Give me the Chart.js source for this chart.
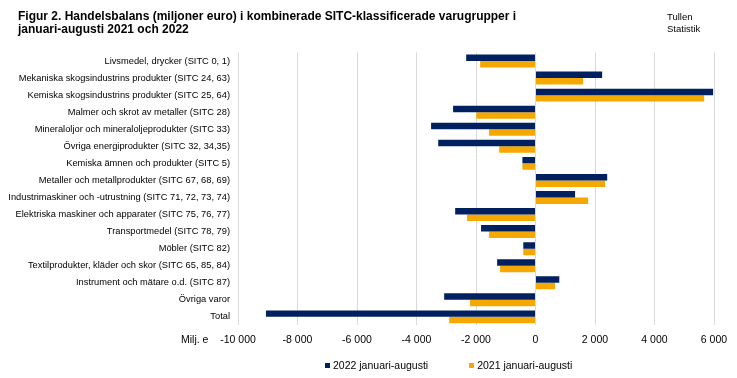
<!DOCTYPE html>
<html>
<head>
<meta charset="utf-8">
<script src="https://cdn.jsdelivr.net/npm/chart.js@4.4.0/dist/chart.umd.min.js"></script>
<style>
    body { margin: 0; background: #fff; }
    #wrap { position: relative; width: 737px; height: 378px; }
    #title {
        position: absolute; left: 18px; top: 10px;
        font: bold 12px 'Liberation Sans', Arial, sans-serif;
        line-height: 13px; color: #000;
    }
    #brand {
        position: absolute; left: 667px; top: 11px;
        font: 9.5px 'Liberation Sans', Arial, sans-serif;
        line-height: 12px; color: #000;
    }
    #unit {
        position: absolute; left: 181px; top: 333px;
        font: 10.5px 'Liberation Sans', Arial, sans-serif; color: #000;
    }
    #legend {
        position: absolute; left: 325px; top: 358px; height: 14px;
        display: flex; align-items: center;
        font: 10.5px 'Liberation Sans', Arial, sans-serif; line-height: 14px; color: #000;
    }
    #legend .item { display: flex; align-items: center; }
    #legend .item + .item { margin-left: 41px; }
    #legend .box { width: 5px; height: 5px; margin-right: 3px; }
    canvas { position: absolute; left: 0; top: 0; }
</style>
</head>
<body>
<div id="wrap">
    <canvas id="myChart" width="737" height="378"></canvas>
    <div id="title">Figur 2. Handelsbalans (miljoner euro) i kombinerade SITC-klassificerade varugrupper i<br>januari-augusti 2021 och 2022</div>
    <div id="brand">Tullen<br>Statistik</div>
    <div id="unit">Milj. e</div>
    <div id="legend"></div>
</div>
<script>
    let categories = [
        'Livsmedel, drycker (SITC 0, 1)',
        'Mekaniska skogsindustrins produkter (SITC 24, 63)',
        'Kemiska skogsindustrins produkter (SITC 25, 64)',
        'Malmer och skrot av metaller (SITC 28)',
        'Mineraloljor och mineraloljeprodukter (SITC 33)',
        'Övriga energiprodukter (SITC 32, 34,35)',
        'Kemiska ämnen och produkter (SITC 5)',
        'Metaller och metallprodukter (SITC 67, 68, 69)',
        'Industrimaskiner och -utrustning (SITC 71, 72, 73, 74)',
        'Elektriska maskiner och apparater (SITC 75, 76, 77)',
        'Transportmedel (SITC 78, 79)',
        'Möbler (SITC 82)',
        'Textilprodukter, kläder och skor (SITC 65, 85, 84)',
        'Instrument och mätare o.d. (SITC 87)',
        'Övriga varor',
        'Total'
    ];
    let values2022 = [-2330, 2240, 5970, -2770, -3510, -3270, -440, 2410, 1330, -2700, -1830, -410, -1290, 800, -3070, -9060];
    let values2021 = [-1860, 1600, 5670, -1990, -1560, -1220, -440, 2340, 1770, -2300, -1560, -410, -1190, 660, -2200, -2900];
    let seriesLabels = ['2022 januari-augusti', '2021 januari-augusti'];
    let tickValues = [-10000, -8000, -6000, -4000, -2000, 0, 2000, 4000, 6000];

    function formatNumber(v) {
        let s = String(Math.abs(v)).replace(/\B(?=(\d{3})+(?!\d))/g, ' ');
        return v < 0 ? '-' + s : s;
    }

    // legend as html, built from the chart's own legend items
    let htmlLegend = {
        id: 'htmlLegend',
        afterUpdate: function (chart) {
            let box = document.getElementById('legend');
            box.innerHTML = '';
            let items = chart.options.plugins.legend.labels.generateLabels(chart);
            items.forEach(function (item) {
                let el = document.createElement('span');
                el.className = 'item';
                let sq = document.createElement('span');
                sq.className = 'box';
                sq.style.background = item.fillStyle;
                el.appendChild(sq);
                el.appendChild(document.createTextNode(item.text));
                box.appendChild(el);
            });
        }
    };

    Chart.defaults.font.family = "'Liberation Sans', Arial, sans-serif";
    Chart.defaults.color = '#000';

    let ctx = document.getElementById('myChart');
    let myChart = new Chart(ctx, {
        type: 'bar',
        data: {
            labels: categories,
            datasets: [{
                label: seriesLabels[0],
                data: values2022,
                backgroundColor: '#002060',
                borderWidth: 0
            }, {
                label: seriesLabels[1],
                data: values2021,
                backgroundColor: '#F5A800',
                borderWidth: 0
            }]
        },
        options: {
            indexAxis: 'y',
            responsive: false,
            animation: false,
            categoryPercentage: 0.76,
            barPercentage: 1.0,
            layout: {
                padding: {top: 52.5, right: 23, left: 0, bottom: 24}
            },
            scales: {
                x: {
                    min: tickValues[0],
                    max: tickValues[tickValues.length - 1],
                    afterBuildTicks: function (scale) {
                        scale.ticks = tickValues.map(function (v) { return {value: v}; });
                    },
                    ticks: {
                        callback: function (v) { return formatNumber(v); },
                        font: {size: 10.5},
                        padding: 8,
                        maxRotation: 0,
                        autoSkip: false
                    },
                    grid: {color: '#d9d9d9', lineWidth: 1, drawTicks: false},
                    border: {display: false}
                },
                y: {
                    afterFit: function (scale) {
                        scale.width = 238;
                    },
                    ticks: {
                        font: {size: 9.3},
                        padding: 8,
                        autoSkip: false
                    },
                    grid: {display: false, drawTicks: false},
                    border: {display: false}
                }
            },
            plugins: {
                legend: {display: false},
                tooltip: {enabled: false}
            }
        },
        plugins: [htmlLegend]
    });
</script>
</body>
</html>
